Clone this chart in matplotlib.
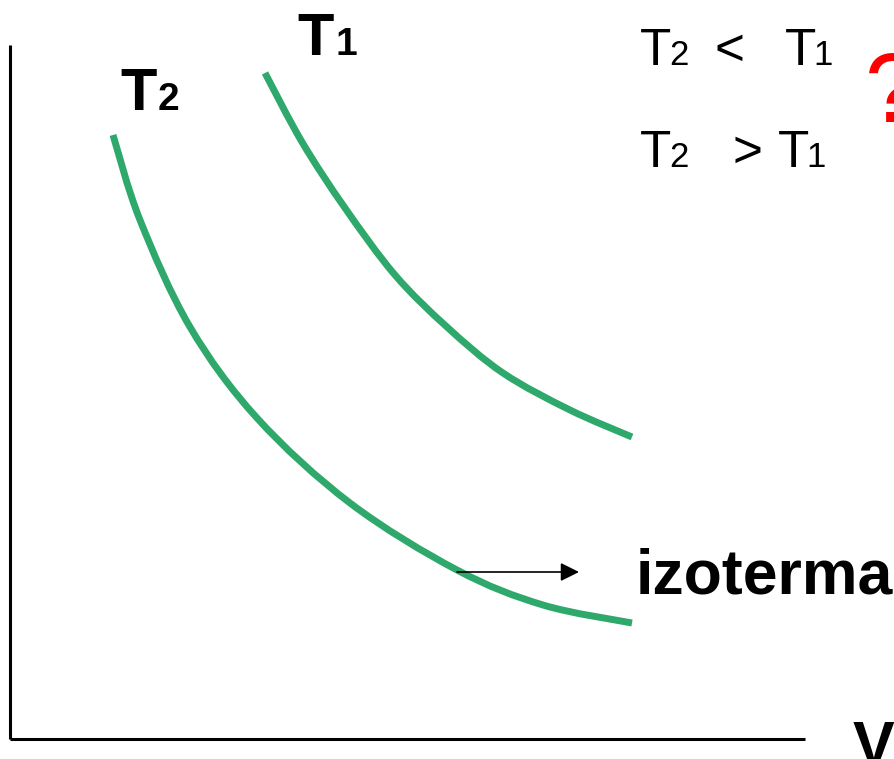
import matplotlib
matplotlib.use("Agg")
import matplotlib.pyplot as plt
import numpy as np
from matplotlib.path import Path
from matplotlib.patches import PathPatch

plt.rcParams['font.family'] = ['Liberation Sans', 'DejaVu Sans']

# isotherm points (pixel units, y downward)
t1_x = [265, 302, 345, 395, 447, 503, 570, 632]
t1_y = [73, 142, 208, 275, 327, 373, 410, 437]
t2_x = [113, 140, 190, 257, 350, 457, 543, 632]
t2_y = [135, 220, 327, 418, 503, 570, 605, 623]

green = '#2fa86c'


def smooth_path(xs, ys):
    # catmull-rom through the read points, drawn as bezier segments
    p = np.column_stack([xs, ys]).astype(float)
    p = np.vstack([p[0], p, p[-1]])
    verts = [p[1]]
    codes = [Path.MOVETO]
    for i in range(1, len(p) - 2):
        c1 = p[i] + (p[i + 1] - p[i - 1]) / 6
        c2 = p[i + 1] - (p[i + 2] - p[i]) / 6
        verts += [c1, c2, p[i + 1]]
        codes += [Path.CURVE4] * 3
    return Path(verts, codes)


fig = plt.figure(figsize=(8.95, 7.59), dpi=100)
ax = fig.add_axes([0, 0, 1, 1])
ax.set_xlim(0, 895)
ax.set_ylim(759, 0)
ax.axis('off')

# axes of the p-V diagram
ax.plot([10, 10], [45, 739], color='black', lw=2.2, solid_capstyle='butt')
ax.plot([10, 805], [739, 739], color='black', lw=2.2, solid_capstyle='butt')

for xs, ys in [(t1_x, t1_y), (t2_x, t2_y)]:
    ax.add_patch(PathPatch(smooth_path(xs, ys), fill=False, edgecolor=green,
                           lw=5, capstyle='butt'))

# curve labels
ax.text(297, 55, 'T', fontsize=43, fontweight='bold', va='baseline')
ax.text(336, 55, '1', fontsize=28, fontweight='bold', va='baseline')
ax.text(120, 110, 'T', fontsize=43, fontweight='bold', va='baseline')
ax.text(158, 110, '2', fontsize=28, fontweight='bold', va='baseline')

# question
ax.text(640, 65, 'T', fontsize=37, va='baseline')
ax.text(669, 65, '2', fontsize=25, va='baseline')
ax.text(715, 65, '<', fontsize=37, va='baseline')
ax.text(785, 65, 'T', fontsize=37, va='baseline')
ax.text(813, 65, '1', fontsize=25, va='baseline')

ax.text(640, 167, 'T', fontsize=37, va='baseline')
ax.text(669, 167, '2', fontsize=25, va='baseline')
ax.text(733, 167, '>', fontsize=37, va='baseline')
ax.text(778, 167, 'T', fontsize=37, va='baseline')
ax.text(806, 167, '1', fontsize=25, va='baseline')

ax.text(865, 122, '?', fontsize=71, color='red', va='baseline')

ax.annotate('', xy=(579, 572), xytext=(457, 572),
            arrowprops=dict(arrowstyle='-|>', color='black', lw=1.2,
                            mutation_scale=28, shrinkA=0, shrinkB=0))
ax.text(636, 593, 'izoterma', fontsize=45, fontweight='bold', va='baseline')

ax.text(853, 765, 'V', fontsize=45, fontweight='bold', va='baseline')

fig.savefig('out.png', dpi=100, facecolor='white')
